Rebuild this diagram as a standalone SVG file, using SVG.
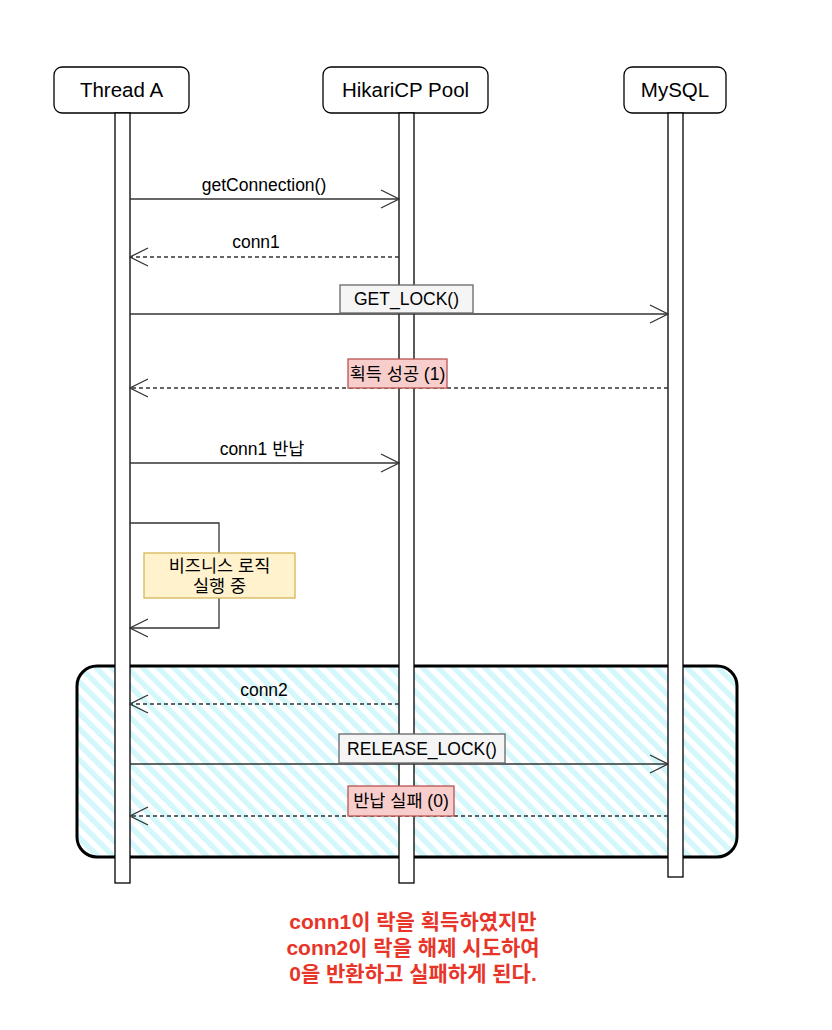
<svg xmlns="http://www.w3.org/2000/svg" width="832" height="1030" viewBox="0 0 832 1030">
<style>
.hdr{fill:#fff;stroke:#000;stroke-width:1.3}
.bar{fill:#fff;stroke:#000;stroke-width:1.3}
.t{font-family:"Helvetica","Liberation Sans","Noto Sans CJK KR",sans-serif;font-size:17.5px;fill:#000;text-anchor:middle}
.th{font-family:"Helvetica","Liberation Sans","Noto Sans CJK KR",sans-serif;font-size:20.5px;fill:#000;text-anchor:middle}
.msg{fill:none;stroke:#333;stroke-width:1.3}
.dash{stroke-dasharray:4 3}
.lblg{fill:#f5f5f5;stroke:#666;stroke-width:1.3}
.lblr{fill:#f8cecc;stroke:#b85450;stroke-width:1.3}
.lbly{fill:#fff2cc;stroke:#d6b656;stroke-width:1.3}
.note{font-family:"Helvetica","Liberation Sans","Noto Sans CJK KR",sans-serif;font-size:21px;font-weight:bold;fill:#e8352a;text-anchor:middle}
</style>
<defs>
<marker id="open" viewBox="0 0 20 20" refX="19" refY="10" markerWidth="20" markerHeight="20" markerUnits="userSpaceOnUse" orient="auto">
<path d="M1 1 L19 10 L1 19" fill="none" stroke="#333" stroke-width="1.3"/>
</marker>
<pattern id="hatch" patternUnits="userSpaceOnUse" width="11" height="11" patternTransform="rotate(-45)">
<rect width="11" height="11" fill="#fff"/>
<rect width="5.5" height="11" fill="#d4f7fc"/>
</pattern>
</defs>
<rect width="832" height="1030" fill="#fff"/>
<g id="fragment">
<rect x="77" y="666" width="660" height="191" rx="20" fill="url(#hatch)" stroke="#000" stroke-width="3"/>
</g>
<g id="thread-a">
<rect class="hdr" x="54" y="67" width="135" height="46" rx="8"/>
<text class="th" x="121.5" y="97">Thread A</text>
<rect class="bar" x="115" y="113" width="15" height="770"/>
</g>
<g id="hikari">
<rect class="hdr" x="323" y="67" width="165" height="46" rx="8"/>
<text class="th" x="405.5" y="97">HikariCP Pool</text>
<rect class="bar" x="399" y="113" width="15" height="770"/>
</g>
<g id="mysql">
<rect class="hdr" x="624" y="67" width="102" height="46" rx="8"/>
<text class="th" x="675" y="97">MySQL</text>
<rect class="bar" x="668" y="113" width="15" height="764"/>
</g>
<g id="connectors">
<line class="msg" x1="130" y1="199" x2="399" y2="199" marker-end="url(#open)"/>
<text class="t" x="264" y="191">getConnection()</text>
<line class="msg dash" x1="399" y1="257" x2="130" y2="257" marker-end="url(#open)"/>
<text class="t" x="256" y="248">conn1</text>
<line class="msg" x1="130" y1="314" x2="668" y2="314" marker-end="url(#open)"/>
<rect class="lblg" x="340" y="285" width="133" height="28"/>
<text class="t" x="406.5" y="305">GET_LOCK()</text>
<line class="msg dash" x1="668" y1="388" x2="130" y2="388" marker-end="url(#open)"/>
<rect class="lblr" x="348" y="359" width="99" height="29"/>
<text class="t" x="397.5" y="380">획득 성공 (1)</text>
<line class="msg" x1="130" y1="463" x2="399" y2="463" marker-end="url(#open)"/>
<text class="t" x="262" y="455">conn1 반납</text>
<polyline class="msg" points="130,523 219,523 219,628 130,628" marker-end="url(#open)"/>
<rect class="lbly" x="144" y="553" width="151" height="45"/>
<text class="t" x="219.5" y="572">비즈니스 로직</text>
<text class="t" x="219.5" y="592">실행 중</text>
<line class="msg dash" x1="399" y1="704" x2="130" y2="704" marker-end="url(#open)"/>
<text class="t" x="264" y="696">conn2</text>
<line class="msg" x1="130" y1="764" x2="668" y2="764" marker-end="url(#open)"/>
<rect class="lblg" x="339" y="734" width="166" height="29"/>
<text class="t" x="422" y="755">RELEASE_LOCK()</text>
<line class="msg dash" x1="668" y1="816" x2="130" y2="816" marker-end="url(#open)"/>
<rect class="lblr" x="348" y="786" width="106" height="30"/>
<text class="t" x="401" y="807">반납 실패 (0)</text>
</g>
<g id="note">
<text class="note" x="413" y="929">conn1이 락을 획득하였지만</text>
<text class="note" x="413" y="955">conn2이 락을 해제 시도하여</text>
<text class="note" x="413" y="981">0을 반환하고 실패하게 된다.</text>
</g>
</svg>
